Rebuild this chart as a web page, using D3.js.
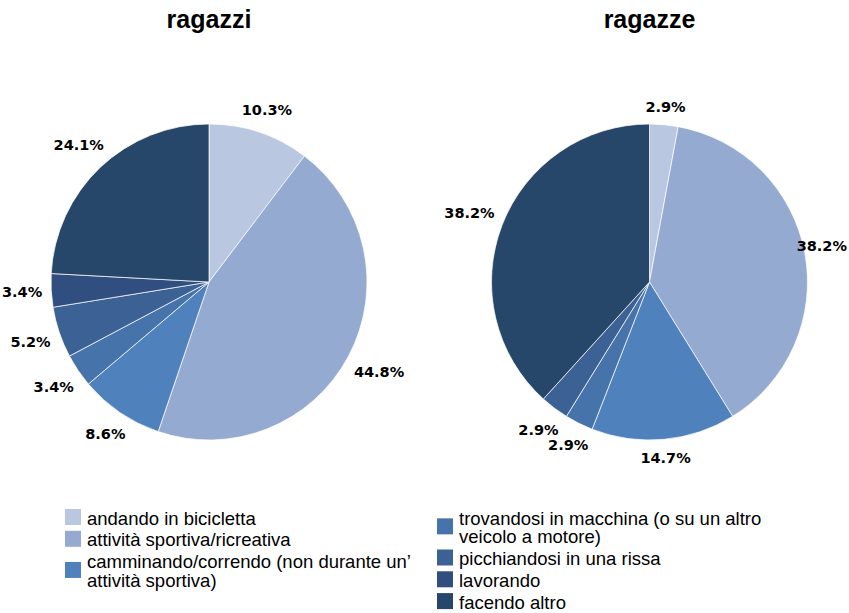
<!DOCTYPE html>
<html>
<head>
<meta charset="utf-8">
<script src="https://cdn.jsdelivr.net/npm/d3@7"></script>
<style>
  body { margin: 0; background: #fff; }
  svg { display: block; }
</style>
</head>
<body>
<script>
const W = 849
const H = 613

// chart data
const categories = [
  "andando in bicicletta",
  "attività sportiva/ricreativa",
  "camminando/correndo (non durante un’\nattività sportiva)",
  "trovandosi in macchina (o su un altro\nveicolo a motore)",
  "picchiandosi in una rissa",
  "lavorando",
  "facendo altro"
]
const ragazzi = [10.3, 44.8, 8.6, 3.4, 5.2, 3.4, 24.1]
const ragazze = [2.9, 38.2, 14.7, 2.9, 2.9, 0, 38.2]
const titles = ["ragazzi", "ragazze"]
const colors = ["#B9C7E1", "#95AAD0", "#4F81BD", "#4674AA", "#3C6194", "#304F80", "#26466A"]

const R = 158
const LABEL_PAD = 9

var svg = d3.select("body").append("svg")
    .attr("width", W)
    .attr("height", H)

var color = d3.scaleOrdinal().domain(categories).range(colors)

var pie = d3.pie().sort(null).value(d => d.value)
var arc = d3.arc().innerRadius(0).outerRadius(R)

function drawPie(values, title, cx, cy) {
  var data = categories.map((c, i) => ({ cat: c, value: values[i] }))
  var g = svg.append("g").attr("transform", "translate(" + cx + "," + cy + ")")

  svg.append("text")
      .attr("x", cx)
      .attr("y", 28)
      .attr("text-anchor", "middle")
      .style("font-family", "'Liberation Sans', Arial, sans-serif")
      .style("font-weight", "bold")
      .style("font-size", "25px")
      .text(title)

  var arcs = pie(data)
  g.selectAll("path")
    .data(arcs.filter(d => d.data.value > 0))
    .enter().append("path")
      .attr("d", arc)
      .attr("fill", d => color(d.data.cat))
      .attr("stroke", "#fff")
      .attr("stroke-width", 0.7)

  // outside-end labels, pushed out by the size of their own box
  g.selectAll("text.lbl")
    .data(arcs.filter(d => d.data.value > 0))
    .enter().append("text")
      .attr("class", "lbl")
      .attr("text-anchor", "middle")
      .attr("dominant-baseline", "central")
      .style("font-family", "'DejaVu Sans', sans-serif")
      .style("font-weight", "bold")
      .style("font-size", "14.5px")
      .text(d => d.data.value.toFixed(1) + "%")
      .each(function(d) {
        var hw = this.getComputedTextLength() / 2
        var hh = 7
        var a = (d.startAngle + d.endAngle) / 2
        var sx = Math.sin(a), sy = -Math.cos(a)
        var dist = R + LABEL_PAD + Math.abs(sx) * hw + Math.abs(sy) * hh
        var x = sx * dist, y = sy * dist
        // keep label inside the picture
        var minX = -cx + hw + 2, maxX = W - cx - hw - 2
        x = Math.max(minX, Math.min(maxX, x))
        d3.select(this).attr("x", x).attr("y", y)
      })
}

drawPie(ragazzi, titles[0], 209, 282)
drawPie(ragazze, titles[1], 649.5, 282)

// legend, two columns
const legendCols = [[0, 1, 2], [3, 4, 5, 6]]
const colX = [65, 437]
const SW = 16
const LINE_H = 18.7
const ITEM_GAP = 21.8

legendCols.forEach(function(items, ci) {
  var base = 524.5
  items.forEach(function(idx) {
    var lines = categories[idx].split("\n")
    var last = base + (lines.length - 1) * LINE_H
    var mid = (base + last) / 2 - 7.5
    svg.append("rect")
        .attr("x", colX[ci])
        .attr("y", mid - SW / 2)
        .attr("width", SW)
        .attr("height", SW)
        .attr("fill", color(categories[idx]))
    lines.forEach(function(l, li) {
      svg.append("text")
          .attr("x", colX[ci] + 22)
          .attr("y", base + li * LINE_H)
          .style("font-family", "'Liberation Sans', Arial, sans-serif")
          .style("font-size", "18.5px")
          .attr("fill", "#000")
          .text(l)
    })
    base = last + ITEM_GAP
  })
})
</script>
</body>
</html>
